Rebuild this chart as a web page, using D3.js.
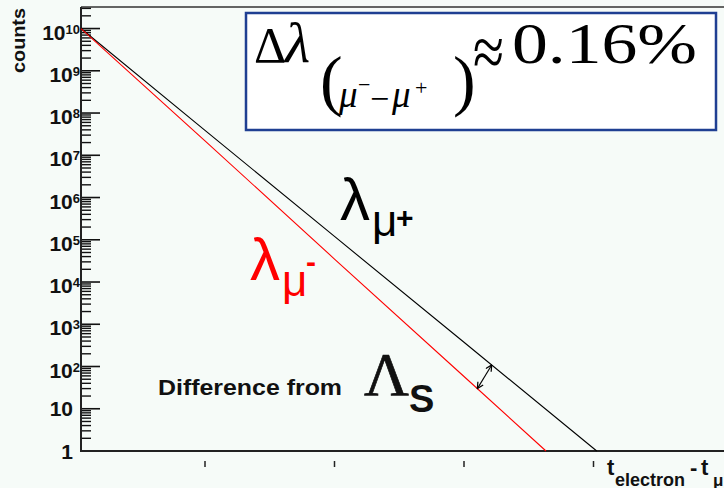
<!DOCTYPE html>
<html>
<head>
<meta charset="utf-8">
<script src="https://cdn.jsdelivr.net/npm/d3@7"></script>
<style>
  html, body { margin: 0; padding: 0; background: #f6fbf8; }
  svg { display: block; }
</style>
</head>
<body>
<svg id="chart" width="724" height="488"></svg>
<script>
// Decay-time spectra (counts vs. electron time), log scale
const tPlus = [0.0425, 1, 2, 3, 4.025];
const countsPlus = [1e10, 3.9e7, 1.2e5, 375, 1];
const tMinus = [0.0425, 1, 2, 3, 3.633];
const countsMinus = [1e10, 2.2e7, 3.5e4, 58, 1];
const xTickValues = [1, 2, 3, 4];
const yDecades = [0, 1, 2, 3, 4, 5, 6, 7, 8, 9, 10];
// double arrow between the two curves
const arrowFrom = { t: 3.214, count: 109 };
const arrowTo = { t: 3.103, count: 30 };

const svg = d3.select("#chart");
const W = 724, H = 488;
const plotLeft = 81, plotTop = 7, plotBottom = 451;
const sans = "Liberation Sans, Arial, sans-serif";
const serif = "Liberation Serif, Times New Roman, serif";

svg.append("rect").attr("width", W).attr("height", H).attr("fill", "#f6fbf8");

const x = d3.scaleLinear().domain([0, 5]).range([75.5, 723]);
const y = d3.scaleLog().domain([1, Math.pow(10, 10.51)]).range([plotBottom, plotTop]);

// frame
svg.append("line").attr("x1", plotLeft).attr("x2", W + 5).attr("y1", plotTop).attr("y2", plotTop)
  .attr("stroke", "#333").attr("stroke-width", 1.6);

// y axis with inward ticks
const yMinor = [];
for (let e = 0; e <= 10; e++) {
  for (let m = 2; m <= 9; m++) {
    const v = m * Math.pow(10, e);
    if (v < y.domain()[1]) yMinor.push(v);
  }
}
const yg = svg.append("g");
yg.selectAll("line.minor").data(yMinor).join("line").attr("class", "minor")
  .attr("x1", plotLeft).attr("x2", plotLeft + 10)
  .attr("y1", d => y(d)).attr("y2", d => y(d))
  .attr("stroke", "#111").attr("stroke-width", 1.4);
yg.selectAll("line.major").data(yDecades).join("line").attr("class", "major")
  .attr("x1", plotLeft).attr("x2", plotLeft + 19)
  .attr("y1", d => y(Math.pow(10, d))).attr("y2", d => y(Math.pow(10, d)))
  .attr("stroke", "#111").attr("stroke-width", 1.6);

// y tick labels
const lab = yg.selectAll("text").data(yDecades).join("text")
  .attr("font-family", sans)
  .attr("font-weight", "bold")
  .attr("fill", "#111")
  .attr("text-anchor", "end")
  .attr("x", 80)
  .attr("y", d => y(Math.pow(10, d)) + (d >= 2 ? 11 : 7.5));
lab.each(function(d) {
  const t = d3.select(this);
  if (d === 0) { t.attr("x", 73).append("tspan").attr("font-size", 21).text("1"); }
  else if (d === 1) { t.attr("x", 73).append("tspan").attr("font-size", 21).text("10"); }
  else {
    t.append("tspan").attr("font-size", 21).text("10");
    t.append("tspan").attr("font-size", 13).attr("dy", -6).text(String(d));
  }
});

// axis lines
svg.append("line").attr("x1", plotLeft).attr("x2", plotLeft).attr("y1", plotTop).attr("y2", plotBottom + 1)
  .attr("stroke", "#222").attr("stroke-width", 2);
svg.append("line").attr("x1", plotLeft - 1).attr("x2", W + 5).attr("y1", plotBottom).attr("y2", plotBottom)
  .attr("stroke", "#222").attr("stroke-width", 2);

// x ticks (unlabelled)
svg.append("g").selectAll("line").data(xTickValues).join("line")
  .attr("x1", d => x(d)).attr("x2", d => x(d))
  .attr("y1", 461).attr("y2", 467)
  .attr("stroke", "#222").attr("stroke-width", 1.5);

// axis titles
svg.append("text")
  .attr("transform", "translate(25,73) rotate(-90)")
  .attr("font-family", sans)
  .attr("font-weight", "bold").attr("font-size", 19).attr("fill", "#111")
  .attr("textLength", 65).attr("lengthAdjust", "spacingAndGlyphs")
  .text("counts");

const xt = svg.append("text")
  .attr("font-family", sans)
  .attr("font-weight", "bold").attr("fill", "#111");
xt.append("tspan").attr("x", 607).attr("y", 475).attr("font-size", 22).text("t");
xt.append("tspan").attr("x", 615).attr("y", 486).attr("font-size", 18).text("electron");
xt.append("tspan").attr("x", 690).attr("y", 475).attr("font-size", 22).text("-");
xt.append("tspan").attr("x", 701).attr("y", 475).attr("font-size", 22).text("t");
xt.append("tspan").attr("x", 713).attr("y", 486).attr("font-size", 17).text("μ");

// curves
const line = d3.line().x(d => x(d[0])).y(d => y(d[1]));
svg.append("path").datum(d3.zip(tPlus, countsPlus))
  .attr("d", line).attr("fill", "none").attr("stroke", "#000").attr("stroke-width", 1.1);
svg.append("path").datum(d3.zip(tMinus, countsMinus))
  .attr("d", line).attr("fill", "none").attr("stroke", "#ff0000").attr("stroke-width", 1.1);

// double-headed arrow
const defs = svg.append("defs");
defs.append("marker").attr("id", "ah").attr("viewBox", "0 0 10 10")
  .attr("refX", 9).attr("refY", 5).attr("markerWidth", 7).attr("markerHeight", 7)
  .attr("orient", "auto-start-reverse")
  .append("path").attr("d", "M1,1 L9,5 L1,9").attr("fill", "none").attr("stroke", "#000").attr("stroke-width", 1.6);
svg.append("line")
  .attr("x1", x(arrowFrom.t)).attr("y1", y(arrowFrom.count))
  .attr("x2", x(arrowTo.t)).attr("y2", y(arrowTo.count))
  .attr("stroke", "#000").attr("stroke-width", 1.1)
  .attr("marker-start", "url(#ah)").attr("marker-end", "url(#ah)");

// curve labels
function lambdaLabel(xp, yb, color, sign, signDy) {
  const t = svg.append("text").attr("fill", color).attr("font-family", sans);
  t.append("tspan").attr("x", xp).attr("y", yb).attr("font-size", 60).text("λ");
  t.append("tspan").attr("x", xp + 32).attr("y", yb + 16).attr("font-size", 44).text("μ");
  t.append("tspan").attr("x", xp + 56).attr("y", yb + signDy).attr("font-size", 30)
    .attr("font-weight", "bold").text(sign);
}
lambdaLabel(340, 220, "#000", "+", 8);
lambdaLabel(250, 280, "#ff0000", "-", -8);

svg.append("text").attr("x", 158).attr("y", 395)
  .attr("font-family", sans).attr("font-weight", "bold").attr("font-size", 22).attr("fill", "#111")
  .attr("textLength", 184).attr("lengthAdjust", "spacingAndGlyphs")
  .text("Difference from");
const ls = svg.append("text").attr("fill", "#111");
ls.append("tspan").attr("x", 364).attr("y", 395)
  .attr("font-family", serif).attr("font-size", 62)
  .attr("stroke", "#111").attr("stroke-width", 0.7).text("Λ");
ls.append("tspan").attr("x", 409).attr("y", 412)
  .attr("font-family", sans).attr("font-weight", "bold").attr("font-size", 38).text("S");

// result box
const box = svg.append("g");
box.append("rect").attr("x", 246).attr("y", 13).attr("width", 470).attr("height", 117)
  .attr("fill", "#ffffff").attr("stroke", "#1f3f92").attr("stroke-width", 2.5);
const eq = box.append("text").attr("font-family", serif).attr("fill", "#000");
function piece(txt, xp, yb, size, italic) {
  eq.append("tspan").attr("x", xp).attr("y", yb).attr("font-size", size)
    .attr("font-style", italic ? "italic" : "normal").text(txt);
}
piece("Δ", 254, 62, 50, false);
piece("λ", 285, 62, 58, true);
piece("(", 320, 103, 68, false);
piece("μ", 339, 107, 37, true);
piece("−", 358, 92, 22, false);
piece("−", 370, 110, 34, false);
piece("μ", 392, 107, 37, true);
piece("+", 415, 95, 22, false);
piece(")", 453, 103, 68, false);
box.append("text").attr("x", 473).attr("y", 76)
  .attr("font-family", serif).attr("font-size", 72).attr("fill", "#000")
  .attr("textLength", 31).attr("lengthAdjust", "spacingAndGlyphs").text("≈");
box.append("text").attr("x", 512).attr("y", 63)
  .attr("font-family", serif).attr("font-size", 56).attr("fill", "#000")
  .attr("textLength", 185).attr("lengthAdjust", "spacingAndGlyphs").text("0.16%");
</script>
</body>
</html>
